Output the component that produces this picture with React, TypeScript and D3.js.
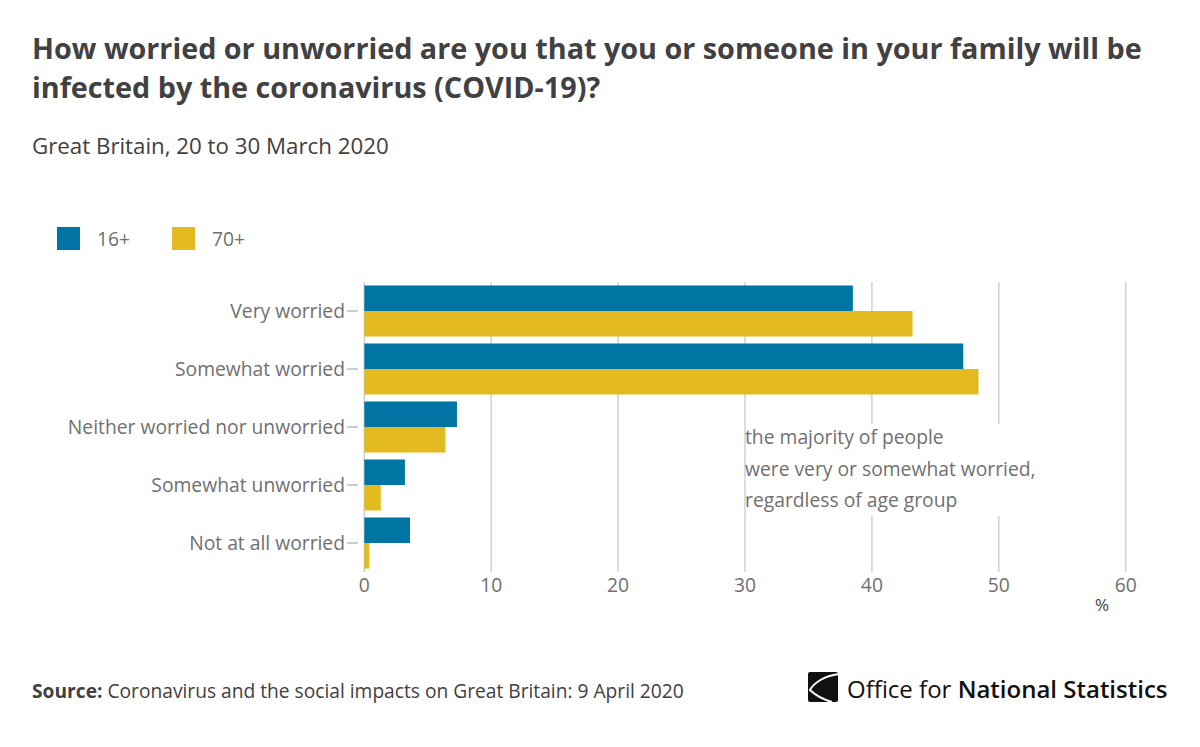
import React from "react";
import * as d3 from "d3";

const categories = [
  "Very worried",
  "Somewhat worried",
  "Neither worried nor unworried",
  "Somewhat unworried",
  "Not at all worried",
];
const seriesNames = ["16+", "70+"];
const values16 = [38.5, 47.2, 7.3, 3.2, 3.6];
const values70 = [43.2, 48.4, 6.4, 1.3, 0.4];
const xTicks = [0, 10, 20, 30, 40, 50, 60];
const colors = ["#0075a3", "#e3bb21"];
const annotationLines = [
  "the majority of people",
  "were very or somewhat worried,",
  "regardless of age group",
];

const W = 1200;
const H = 747;
const FONT = "'Open Sans', sans-serif";

export default function App() {
  const x = d3.scaleLinear().domain([0, 60]).range([364.3, 1125.7]);
  const y = d3
    .scaleBand<string>()
    .domain(categories)
    .range([282, 572])
    .paddingInner(0.12)
    .paddingOuter(0.06);
  const sub = d3
    .scaleBand<string>()
    .domain(seriesNames)
    .range([0, y.bandwidth()]);
  const seriesValues = [values16, values70];

  return (
    <svg
      width={W}
      height={H}
      style={{ position: "absolute", left: 0, top: 0, background: "#fff" }}
      fontFamily={FONT}
    >
      <rect width={W} height={H} fill="#fff" />
      {/* Title */}
      <text x={32} y={59} fontSize={28.75} fontWeight={700} fill="#414042">
        How worried or unworried are you that you or someone in your family will be
      </text>
      <text x={32} y={98} fontSize={28.75} fontWeight={700} fill="#414042">
        infected by the coronavirus (COVID-19)?
      </text>
      <text x={32} y={154} fontSize={22.3} fill="#414042">
        Great Britain, 20 to 30 March 2020
      </text>

      {/* Legend */}
      {seriesNames.map((s, i) => (
        <g key={s} transform={`translate(${57 + i * 115},227)`}>
          <rect width={23} height={23} fill={colors[i]} />
          <text x={40} y={19} fontSize={19.3} fill="#707071">
            {s}
          </text>
        </g>
      ))}

      {/* Gridlines */}
      {xTicks.map((t) => (
        <line
          key={t}
          x1={x(t)}
          x2={x(t)}
          y1={282}
          y2={572}
          stroke="#d0d0d0"
          strokeWidth={1.5}
        />
      ))}

      {/* Bars */}
      {categories.map((c, ci) => (
        <g key={c} transform={`translate(0,${y(c)})`}>
          {seriesNames.map((s, si) => (
            <rect
              key={s}
              x={x(0)}
              y={sub(s)}
              width={x(seriesValues[si][ci]) - x(0)}
              height={sub.bandwidth()}
              fill={colors[si]}
            />
          ))}
        </g>
      ))}

      {/* Y axis labels */}
      {categories.map((c) => {
        const cy = (y(c) as number) + y.bandwidth() / 2;
        return (
          <g key={c}>
            <line x1={347} x2={358} y1={cy} y2={cy} stroke="#bdbdbd" strokeWidth={1.5} />
            <text
              x={345}
              y={cy}
              dy="0.35em"
              textAnchor="end"
              fontSize={19.3}
              fill="#707071"
            >
              {c}
            </text>
          </g>
        );
      })}

      {/* X tick labels */}
      {xTicks.map((t) => (
        <text
          key={t}
          x={x(t)}
          y={592}
          textAnchor="middle"
          fontSize={19.3}
          fill="#707071"
        >
          {t}
        </text>
      ))}
      <text x={1102} y={611} textAnchor="middle" fontSize={17} fill="#414042">
        %
      </text>

      {/* Annotation */}
      <rect x={746} y={424} width={292} height={92} fill="#fff" />
      {annotationLines.map((l, i) => (
        <text key={i} x={745} y={444 + i * 31.5} fontSize={19.3} fill="#707071">
          {l}
        </text>
      ))}

      {/* Source */}
      <text x={32} y={698} fontSize={19.2} fill="#414042">
        <tspan fontWeight={700}>Source:</tspan>
        <tspan> Coronavirus and the social impacts on Great Britain: 9 April 2020</tspan>
      </text>

      {/* ONS logo */}
      <g>
        <rect x={808} y={672} width={30} height={30} rx={2} fill="#111" />
        <path
          d="M839,674 C823,676 813,684 810,690 C815,695 822,699 832,702"
          fill="none"
          stroke="#fff"
          strokeWidth={2}
        />
        <text x={847} y={698} fontSize={24} fill="#111">
          <tspan fontWeight={400}>Office for </tspan>
          <tspan fontWeight={600}>National Statistics</tspan>
        </text>
      </g>
    </svg>
  );
}
